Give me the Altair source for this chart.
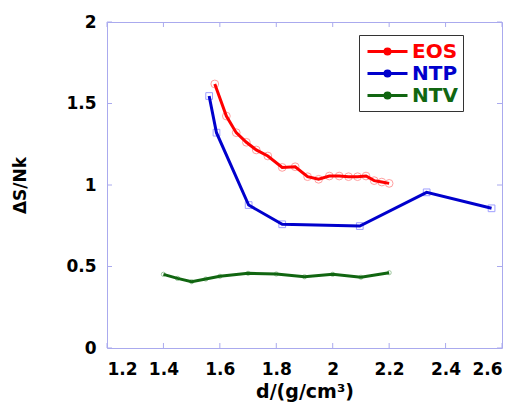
import altair as alt
import pandas as pd

series_names = ["EOS", "NTP", "NTV"]
line_colors = ["#ff0000", "#0000cc", "#116611"]

eos_x = [1.582, 1.623, 1.658, 1.694, 1.729, 1.770, 1.821, 1.867, 1.911, 1.950,
         1.988, 2.023, 2.056, 2.088, 2.118, 2.147, 2.174, 2.200]
eos_y = [1.620, 1.423, 1.321, 1.262, 1.215, 1.178, 1.108, 1.112, 1.051, 1.035,
         1.055, 1.055, 1.051, 1.051, 1.055, 1.027, 1.018, 1.010]
ntp_x = [1.562, 1.588, 1.702, 1.821, 2.096, 2.333, 2.563]
ntp_y = [1.546, 1.321, 0.877, 0.759, 0.748, 0.955, 0.857]
ntv_x = [1.40, 1.45, 1.50, 1.55, 1.60, 1.70, 1.80, 1.90, 2.00, 2.10, 2.20]
ntv_y = [0.452, 0.427, 0.407, 0.423, 0.440, 0.458, 0.454, 0.437, 0.452, 0.434, 0.462]

x_ticks = [1.2, 1.4, 1.6, 1.8, 2.0, 2.2, 2.4, 2.6]
y_ticks = [0, 0.5, 1.0, 1.5, 2.0]

W, H = 395, 326
FONT = "DejaVu Sans"

frames = []
for name, xs, ys in [("EOS", eos_x, eos_y), ("NTP", ntp_x, ntp_y), ("NTV", ntv_x, ntv_y)]:
    frames.append(pd.DataFrame({"series": name, "d": xs, "s": ys, "order": range(len(xs))}))
df = pd.concat(frames, ignore_index=True)

xscale = alt.Scale(domain=[1.2, 2.6], nice=False, zero=False)
yscale = alt.Scale(domain=[0, 2], nice=False, zero=False)

x_enc = alt.X("d:Q", scale=xscale, axis=alt.Axis(
    title="d/(g/cm³)", values=x_ticks, format="~g", tickSize=0, domain=False, grid=False,
    labelFontSize=17, labelFontWeight="bold", labelFont=FONT, labelColor="black",
    labelPadding=13, titleFontSize=19, titleFontWeight="bold", titleFont=FONT,
    titleColor="black", titlePadding=5))
y_enc = alt.Y("s:Q", scale=yscale, axis=alt.Axis(
    title="ΔS/Nk", values=y_ticks, format="~g", tickSize=0, domain=False, grid=False,
    labelFontSize=17, labelFontWeight="bold", labelFont=FONT, labelColor="black",
    labelPadding=11, titleFontSize=17, titleFontWeight="bold", titleFont=FONT,
    titleColor="black", titlePadding=36))

base = alt.Chart(df)

label_color_expr = ("datum.label == 'EOS' ? '%s' : datum.label == 'NTP' ? '%s' : '%s'"
                    % tuple(line_colors))

lines = base.mark_line().encode(
    x=x_enc, y=y_enc,
    color=alt.Color("series:N", scale=alt.Scale(domain=series_names, range=line_colors),
                    legend=alt.Legend(
                        title=None, orient="none", legendX=252, legendY=13,
                        symbolType="M-3,0H1M-0.75,0A0.25,0.25,0,1,1,-1.25,0A0.25,0.25,0,1,1,-0.75,0",
                        symbolSize=400, symbolStrokeWidth=2, symbolOffset=22,
                        labelFontSize=20, labelFontWeight="bold", labelFont=FONT,
                        labelColor={"expr": label_color_expr},
                        strokeColor="#333333", fillColor="white", padding=5,
                        rowPadding=0, labelOffset=3)),
    strokeWidth=alt.StrokeWidth("series:N", scale=alt.Scale(domain=series_names, range=[3, 3, 2.5]),
                                legend=None),
    order="order:Q",
)

eos_pts = base.transform_filter("datum.series == 'EOS'").mark_point(
    shape="circle", size=60, filled=False, color="#ff8888", strokeWidth=1, opacity=0.8
).encode(x="d:Q", y="s:Q")
ntp_pts = base.transform_filter("datum.series == 'NTP'").mark_point(
    shape="square", size=45, filled=False, color="#8888ff", strokeWidth=1, opacity=0.8
).encode(x="d:Q", y="s:Q")
ntv_pts = base.transform_filter("datum.series == 'NTV'").mark_point(
    shape="circle", size=18, filled=False, color="#88bb88", strokeWidth=1, opacity=0.8
).encode(x="d:Q", y="s:Q")

tick_color = "#aaaaee"
xt = pd.DataFrame({"t": x_ticks})
yt = pd.DataFrame({"t": y_ticks})
bottom_ticks = alt.Chart(xt).mark_rule(color=tick_color, strokeWidth=1).encode(
    x=alt.X("t:Q", scale=xscale), y=alt.value(H), y2=alt.value(H - 5))
top_ticks = alt.Chart(xt).mark_rule(color=tick_color, strokeWidth=1).encode(
    x=alt.X("t:Q", scale=xscale), y=alt.value(0), y2=alt.value(5))
left_ticks = alt.Chart(yt).mark_rule(color=tick_color, strokeWidth=1).encode(
    y=alt.Y("t:Q", scale=yscale), x=alt.value(0), x2=alt.value(5))
right_ticks = alt.Chart(yt).mark_rule(color=tick_color, strokeWidth=1).encode(
    y=alt.Y("t:Q", scale=yscale), x=alt.value(W), x2=alt.value(W - 5))

chart = alt.layer(
    bottom_ticks, top_ticks, left_ticks, right_ticks,
    eos_pts, ntp_pts, ntv_pts, lines
).properties(
    width=W, height=H,
    autosize=alt.AutoSizeParams(type="none"),
    padding={"left": 107, "top": 22, "right": 18, "bottom": 55},
    background="white",
).configure_view(stroke="#aaaaee", strokeWidth=1)

chart.save("out.html", embed_options={"renderer": "svg", "actions": False})
